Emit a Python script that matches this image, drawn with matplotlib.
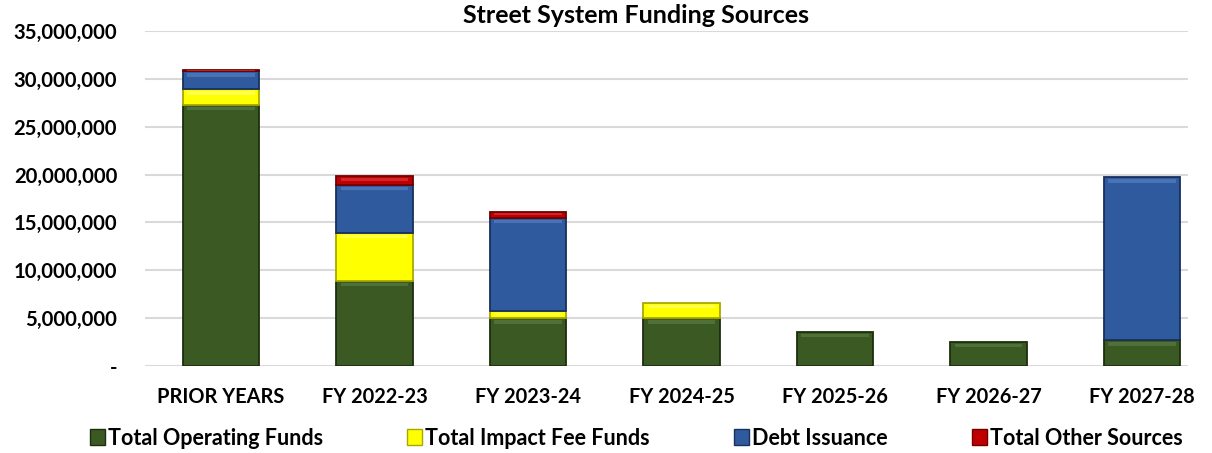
import matplotlib
matplotlib.use("Agg")
import matplotlib.pyplot as plt
from matplotlib.ticker import FuncFormatter
from matplotlib.patches import Patch
import numpy as np

plt.rcParams['font.family'] = ['Lato', 'DejaVu Sans']

years = ['PRIOR YEARS', 'FY 2022-23', 'FY 2023-24', 'FY 2024-25',
         'FY 2025-26', 'FY 2026-27', 'FY 2027-28']
operating = [27300000, 8900000, 5000000, 5000000, 3600000, 2500000, 2700000]
impact_fee = [1600000, 5000000, 700000, 1600000, 0, 0, 0]
debt = [1900000, 5000000, 9800000, 0, 0, 0, 17000000]
other = [150000, 900000, 600000, 0, 0, 0, 0]

# name, values, face, edge, highlight
series = [
    ('Total Operating Funds', operating, '#3B5A23', '#1C2E0E', '#5E7F45'),
    ('Total Impact Fee Funds', impact_fee, '#FFFF00', '#A8A800', '#FFFF80'),
    ('Debt Issuance', debt, '#2F5A9E', '#17305C', '#5B84C4'),
    ('Total Other Sources', other, '#C00000', '#700000', '#E04040'),
]

fig = plt.figure(figsize=(12.12, 4.53), dpi=100)
ax = fig.add_axes([145 / 1212, 1 - 366 / 453, 1043 / 1212, 335 / 453])

x = np.arange(len(years))
bottom = np.zeros(len(years))
for name, vals, color, edge, hi in series:
    vals = np.array(vals, dtype=float)
    m = vals > 0
    ax.bar(x[m], vals[m], width=0.5, bottom=bottom[m], color=color,
           edgecolor=edge, linewidth=1.3, zorder=3)
    # bevel highlight near the top of each segment
    band = np.minimum(vals[m] * 0.35, 350000)
    ax.bar(x[m], band, width=0.44, bottom=bottom[m] + vals[m] - band * 1.6,
           color=hi, linewidth=0, alpha=0.6, zorder=4)
    bottom += vals

ax.set_ylim(0, 35000000)
ax.set_xlim(-0.496, 6.30)
ax.set_yticks(np.arange(0, 35000001, 5000000))
ax.yaxis.set_major_formatter(FuncFormatter(lambda v, p: '-' if v == 0 else f'{v:,.0f}'))
ax.grid(axis='y', color='#D9D9D9', linewidth=1.5, zorder=0)
for s in ax.spines.values():
    s.set_visible(False)
ax.tick_params(length=0)
ax.tick_params(axis='y', pad=20)
ax.tick_params(axis='x', pad=15)
ax.set_xticks(x)
ax.set_xticklabels(years, fontsize=14.4, fontweight='bold')
for lbl in ax.get_yticklabels():
    lbl.set_fontsize(14.6)
    lbl.set_fontweight('bold')

fig.text(0.525, 0.965, 'Street System Funding Sources', ha='center', va='center',
         fontsize=18, fontweight='bold')

handles = [Patch(facecolor=c, edgecolor=e, label=n) for n, _, c, e, _ in series]
leg = fig.legend(handles=handles, loc='center', bbox_to_anchor=(0.525, 0.033),
                 ncol=4, frameon=False, handlelength=0.7, handleheight=0.7,
                 handletextpad=0.15, columnspacing=3.9,
                 prop={'size': 15.5, 'weight': 'bold'})

fig.savefig('out.png', dpi=100)
